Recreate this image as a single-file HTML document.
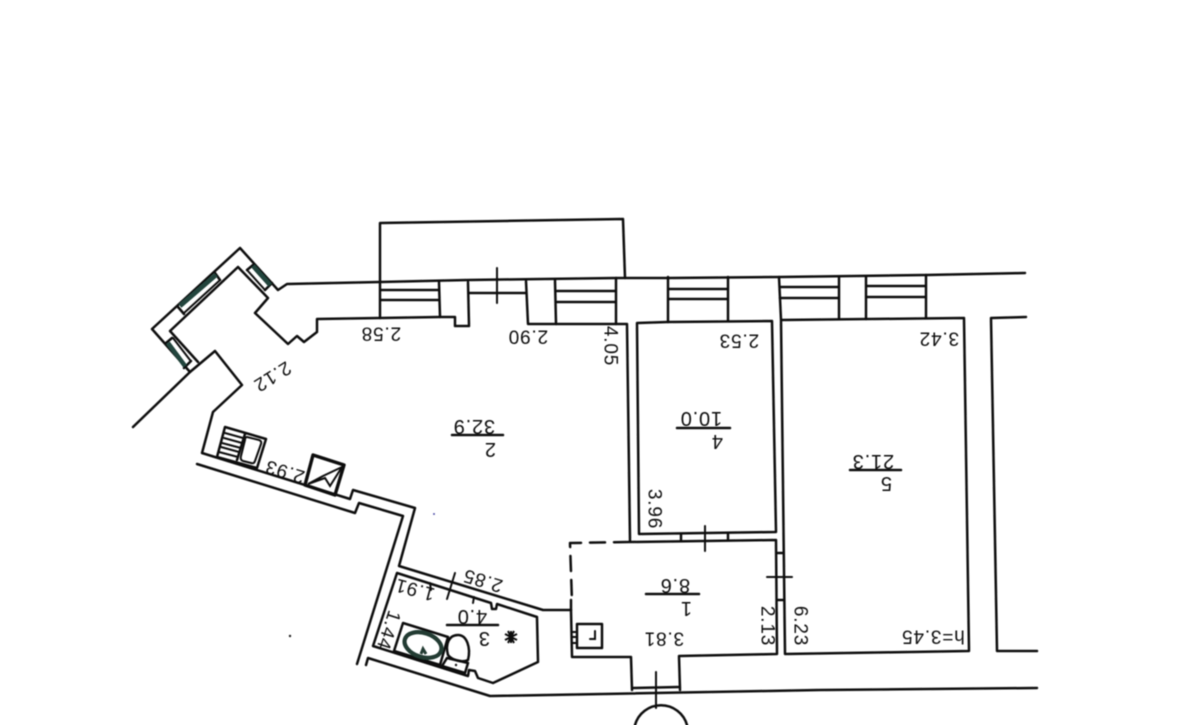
<!DOCTYPE html>
<html lang="en">
<head>
<meta charset="utf-8">
<title>Floor plan</title>
<style>
html,body{margin:0;padding:0;background:#fff;width:1200px;height:725px;overflow:hidden}
svg{display:block}
.l{fill:none;stroke:#111;stroke-width:2.5;stroke-linejoin:round;stroke-linecap:round}
.t{fill:none;stroke:#111;stroke-width:2;stroke-linecap:round}
.g{fill:none;stroke:#24453c;stroke-width:4.5;stroke-linecap:butt}
text{font-family:"Liberation Sans",sans-serif;font-size:19px;fill:#111;text-anchor:middle;dominant-baseline:central;letter-spacing:.8px}
text.r{font-size:20px}
</style>
</head>
<body>
<svg width="1200" height="725" viewBox="0 0 1200 725" xmlns="http://www.w3.org/2000/svg">
<defs><filter id="b" x="-5%" y="-5%" width="110%" height="110%"><feGaussianBlur stdDeviation="0.5"/></filter></defs>
<rect width="1200" height="725" fill="#fff"/>
<g filter="url(#b)">
<!-- Outer wall: corner bay -->
<path class="l" d="M133 427L190 372L152 329L240 248L278 290L287 284L380 282L468 280L617 278L668 278L779 277L926 275L1025 273"/>
<path class="l" d="M190 372L215 351L242 385L213 412L202 453L350 499L353 490L415 508L399 566L543 610L571 610"/>
<path class="l" d="M197 464L355 513L359 503L403 516L357 664"/>
<path class="l" d="M366 665L368 658L490 696L820 690L1037 688"/>
<!-- Bay inner -->
<path class="l" d="M198 362L170 331L238 267L268 298L255 313L288 344L297 336L304 342L317 332L317 319L380 318L440 317L455 317L455 326L469 326L468 282"/>
<!-- Bay window segments -->
<path class="l" d="M178 307L184 314M215 273L220 280M166 343L172 338M184 368L191 361M247 270L253 265M265 290L272 283"/>
<path class="g" d="M180 306L216 275"/>
<path class="t" d="M184 313L219 281"/>
<path class="g" d="M168 343L185 366"/>
<path class="t" d="M173 338L190 360"/>
<path class="g" d="M253 266L270 285"/>
<path class="t" d="M247 270L265 290"/>
<!-- Porch -->
<path class="l" d="M380 282L380 223L623 219L625 278"/>
<!-- Window 1 -->
<path class="l" d="M380 282L380 318M439 282L440 317M380 290L439 290M380 300L439 300"/>
<!-- Door/niche -->
<path class="l" d="M469 293L526 293M526 281L528 324L627 324L630 541"/>
<path class="t" d="M497 268L497 303"/>
<!-- Window 2 -->
<path class="l" d="M555 280L556 324M616 278L616 324M557 291L615 291M557 302L615 302"/>
<!-- Window 3 / Room 4 -->
<path class="l" d="M668 277L668 322M728 277L728 321M669 289L728 289M669 299L728 299"/>
<path class="l" d="M668 322L637 323L639 534L776 532L772 321L668 322"/>
<!-- Window 4, 5 / Room 5 -->
<path class="l" d="M779 277L781 320L964 318L969 651L785 654L781 320"/>
<path class="l" d="M839 277L839 319M866 277L866 319M926 275L926 318M780 287L838 287M780 298L838 298M867 286L925 286M867 297L925 297"/>
<!-- Right room -->
<path class="l" d="M1026 317L991 318L997 651L1037 651"/>
<!-- Room 1 -->
<path class="l" d="M571 600L571 610L572 657L631 657L632 690M680 690L679 656L777 654L776 540L630 542"/>
<path class="l" stroke-dasharray="15 9" d="M629 542L570 543L572 602"/>
<path class="l" d="M633 688L679 687"/>
<path class="l" d="M681 534L681 540M728 533L728 540"/>
<path class="t" d="M705 526L705 551"/>
<path class="l" d="M777 553L783 553M777 600L783 600"/>
<path class="t" d="M767 577L792 577"/>
<path class="t" d="M656 672L656 708"/>
<path class="l" d="M635 725A27 27 0 0 1 687 725"/>
<!-- Boiler -->
<rect class="l" x="577" y="624" width="25" height="24"/>
<path class="t" d="M590 639L595 639L595 631"/>
<path class="t" d="M572 632L577 632M572 637L577 637M572 643L577 643"/>
<!-- Bathroom -->
<path class="l" d="M397 573L373 646L468 676L469 670L475 671L478 678L493 683L538 662L537 617L497 604L496 609L492 609L491 603L397 573"/>
<path class="t" d="M430 583L431 590M474 597L473 603"/>
<path class="t" d="M455 573L447 599"/>
<path class="l" d="M403 623L448 637L440 665L394 651Z"/>
<ellipse cx="423" cy="645" rx="19" ry="12" transform="rotate(18 423 645)" fill="none" stroke="#203a33" stroke-width="4.2"/>
<path d="M421 654L423 649L426 654" fill="none" stroke="#203a33" stroke-width="3"/>
<path class="l" d="M448 655C445 644 449 635 458 635C467 635 471 648 468 660C462 663 452 660 448 655Z"/>
<path class="l" d="M447 658L468 663L465 673L442 666Z"/>
<circle cx="456" cy="665" r="1.2" fill="#111"/>
<path d="M511 631L511 643M505 634L517 640M505 640L517 634M508 631L514 643M514 631L508 643" stroke="#111" stroke-width="2" fill="none"/>
<!-- Sink -->
<path class="l" d="M225 427L266 439L257 468L217 457Z"/>
<path class="l" d="M245 434L237 460"/>
<path class="t" d="M225 433L243 438M224 438L242 443M222 443L241 448M221 447L239 452M219 452L238 457"/>
<path class="t" d="M247 437L259 440Q262 441 261 444L255 461Q254 464 251 463L243 461Q240 460 241 456L245 440Q245 437 247 437Z"/>
<!-- Stove -->
<path d="M313 455L344 465L335 495L305 485Z" fill="none" stroke="#111" stroke-width="3.4" stroke-linejoin="round"/>
<path class="t" d="M342 467L323 476L308 484L325 478L330 486L342 467"/>
<!-- Room labels separators -->
<path class="l" d="M452 435L503 435M677 428L730 428M850 470L901 470M646 594L699 594M447 625L498 625"/>
<!-- specks -->
<circle cx="434" cy="514" r="1" fill="#5555aa"/>
<circle cx="290" cy="636" r="1.2" fill="#222"/>
<!-- Text -->
<text transform="translate(381 333) rotate(180)">2.58</text>
<text transform="translate(528 336) rotate(180)">2.90</text>
<text transform="translate(610 346) rotate(90)">4.05</text>
<text transform="translate(739 340) rotate(180)">2.53</text>
<text transform="translate(939 338) rotate(180)">3.42</text>
<text transform="translate(272 376) rotate(148)">2.12</text>
<text transform="translate(285 471) rotate(197)">2.93</text>
<text transform="translate(654 509) rotate(90)">3.96</text>
<text transform="translate(483 580) rotate(197)">2.85</text>
<text transform="translate(415 589) rotate(195)">1.91</text>
<text transform="translate(388 630) rotate(108)">1.44</text>
<text transform="translate(767 626) rotate(90)">2.13</text>
<text transform="translate(800 626) rotate(90)">6.23</text>
<text transform="translate(664 638) rotate(180)">3.81</text>
<text transform="translate(933 636) rotate(180)">h=3.45</text>
<text class="r" transform="translate(474 426) rotate(180)">32.9</text>
<text class="r" transform="translate(490 449) rotate(180)">2</text>
<text class="r" transform="translate(701 418) rotate(180)">10.0</text>
<text class="r" transform="translate(717 441) rotate(180)">4</text>
<text class="r" transform="translate(873 461) rotate(180)">21.3</text>
<text class="r" transform="translate(886 483) rotate(180)">5</text>
<text class="r" transform="translate(675 585) rotate(180)">8.6</text>
<text class="r" transform="translate(686 608) rotate(180)">1</text>
<text class="r" transform="translate(472 616) rotate(180)">4.0</text>
<text class="r" transform="translate(484 638) rotate(180)">3</text>
</g>
</svg>
</body>
</html>
